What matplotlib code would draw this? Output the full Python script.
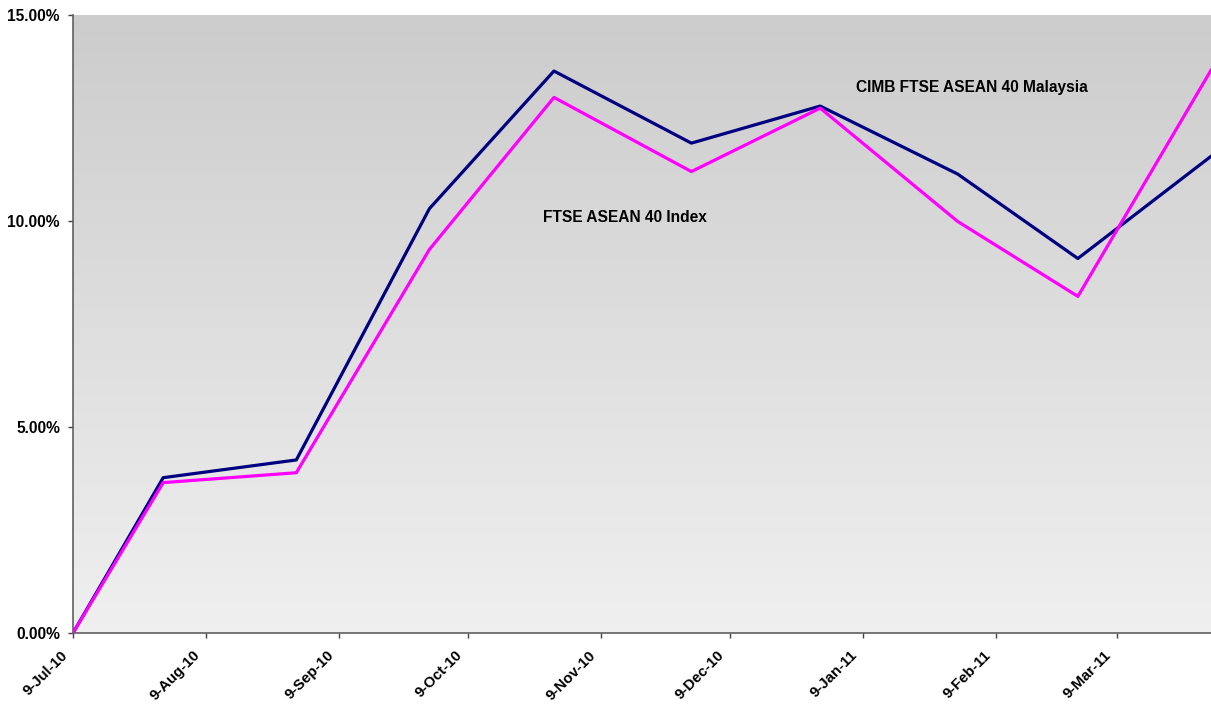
import matplotlib
matplotlib.use("Agg")
import matplotlib.pyplot as plt
import matplotlib.dates as mdates
import matplotlib.transforms as mtransforms
import numpy as np
import pandas as pd
from matplotlib.ticker import FuncFormatter

dates = ["2010-07-09", "2010-07-30", "2010-08-30", "2010-09-30", "2010-10-29",
         "2010-11-30", "2010-12-30", "2011-01-31", "2011-02-28", "2011-03-31"]
cimb_malaysia = [0.00, 3.77, 4.20, 10.30, 13.64, 11.89, 12.79, 11.14, 9.09, 11.57]
ftse_asean40 = [0.00, 3.65, 3.89, 9.31, 13.00, 11.20, 12.74, 9.99, 8.17, 13.66]
tick_dates = ["2010-07-09", "2010-08-09", "2010-09-09", "2010-10-09", "2010-11-09",
              "2010-12-09", "2011-01-09", "2011-02-09", "2011-03-09"]
tick_labels = ["9-Jul-10", "9-Aug-10", "9-Sep-10", "9-Oct-10", "9-Nov-10",
               "9-Dec-10", "9-Jan-11", "9-Feb-11", "9-Mar-11"]
y_ticks = [0, 5, 10, 15]

plt.rcParams['font.family'] = ['Liberation Sans', 'DejaVu Sans']

x = pd.to_datetime(dates)
fig = plt.figure(figsize=(12.11, 7.04), dpi=100)
ax = fig.add_axes([73/1211, 1-633/704, 1-73/1211, (633-15)/704])

# gradient background
grad = np.linspace(0, 1, 256).reshape(-1, 1)
top = np.array([0.80, 0.80, 0.80])
bot = np.array([0.94, 0.94, 0.94])
img = top + (bot - top) * grad[:, :, None] * np.ones((1, 1, 3))
ax.imshow(img, extent=[0, 1, 0, 1], transform=ax.transAxes, aspect='auto', zorder=0)

ax.plot(x, cimb_malaysia, color='#000080', lw=2.3, zorder=3)
ax.plot(x, ftse_asean40, color='#ff00ff', lw=2.3, zorder=3)

ax.set_xlim(pd.Timestamp("2010-07-09"), pd.Timestamp("2011-03-31"))
ax.set_ylim(0, 15)
ax.set_yticks(y_ticks)
ax.yaxis.set_major_formatter(FuncFormatter(lambda v, p: f"{v:.2f}%"))
ax.set_xticks(pd.to_datetime(tick_dates))

fs = 11.2
for lab in ax.get_yticklabels():
    lab.set_fontweight('bold')
    lab.set_fontsize(fs)

ax.tick_params(axis='both', direction='out', length=3.6, width=1, color='#404040', pad=5.8)
ax.tick_params(axis='x', labelbottom=False)

# rotated date labels, right end slightly left of the tick
base = ax.get_xaxis_transform()
off = mtransforms.ScaledTranslation(-3/100, -15/100, fig.dpi_scale_trans)
for d, lbl in zip(pd.to_datetime(tick_dates), tick_labels):
    ax.text(d, 0, lbl, transform=base + off, rotation=45, ha='right', va='top',
            fontsize=10.8, fontweight='bold', clip_on=False)

for s in ['top', 'right']:
    ax.spines[s].set_visible(False)
for s in ['left', 'bottom']:
    ax.spines[s].set_color('#606060')
    ax.spines[s].set_linewidth(1.2)

ax.text(0.790, 0.882, "CIMB FTSE ASEAN 40 Malaysia", transform=ax.transAxes,
        ha='center', va='center', fontsize=fs, fontweight='bold')
ax.text(0.485, 0.672, "FTSE ASEAN 40 Index", transform=ax.transAxes,
        ha='center', va='center', fontsize=fs, fontweight='bold')

fig.savefig("out.png", dpi=100)
